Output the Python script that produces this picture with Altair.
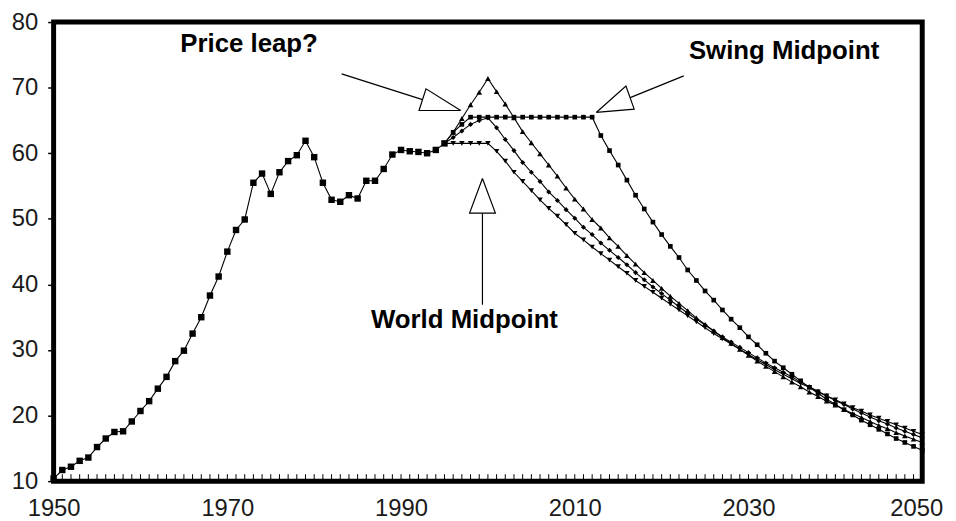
import altair as alt
import pandas as pd

# ---------------- data ----------------
hist_years = list(range(1950, 1996))
hist_vals = [10.4, 11.7, 12.2, 13.1, 13.6, 15.2, 16.5, 17.5, 17.6, 19.1,
             20.7, 22.2, 24.1, 25.9, 28.3, 29.9, 32.5, 35.0, 38.3, 41.2,
             45.0, 48.3, 49.9, 55.5, 56.9, 53.8, 57.1, 58.8, 59.7, 61.9,
             59.4, 55.5, 52.9, 52.6, 53.6, 53.1, 55.8, 55.8, 57.6, 59.8,
             60.5, 60.3, 60.2, 60.0, 60.5, 61.5]

scen_years = list(range(1995, 2051))
world_mid = [61.5, 61.5, 61.5, 61.5, 61.5, 61.5,
             60.3, 58.8, 57.1, 55.7, 54.3, 52.9, 51.6, 50.4, 49.1, 47.8,
             46.8, 45.7, 44.7, 43.7, 42.7, 41.7, 40.6,
             39.7, 38.8, 37.9, 37.0, 36.1, 35.2, 34.3, 33.4, 32.5, 31.7,
             30.9, 30.1, 29.3,
             28.5, 27.8, 27.0, 26.3, 25.6, 24.9, 24.3, 23.6, 23.0, 22.4,
             21.8, 21.2, 20.7, 20.1, 19.6, 19.1, 18.6, 18.1, 17.6, 17.1]
early_peak = [61.5, 62.4, 63.4, 64.4, 65.0, 65.4,
              63.9, 62.1, 60.4, 58.6, 57.1, 55.7, 54.1, 52.8, 51.4, 50.1,
              48.7, 47.6, 46.3, 45.2, 44.1, 43.0, 41.8,
              40.7, 39.6, 38.6, 37.6, 36.6, 35.6, 34.7, 33.8, 32.9, 32.0,
              31.2, 30.4, 29.6,
              28.8, 28.0, 27.3, 26.6, 25.9, 25.1, 24.4, 23.7, 23.0, 22.3,
              21.7, 21.0, 20.4, 19.8, 19.2, 18.7, 18.1, 17.6, 17.1, 16.6]
price_leap = [61.5, 63.2, 65.3, 67.4, 69.3, 71.4,
              69.4, 67.5, 65.4, 63.3, 61.6, 59.9, 58.2, 56.5, 54.7, 53.0,
              51.5, 49.9, 48.6, 47.1, 45.8, 44.4, 43.1,
              41.8, 40.6, 39.4, 38.2, 37.1, 36.0, 34.9, 33.9, 32.9, 31.9,
              31.0, 30.1, 29.2,
              28.3, 27.5, 26.7, 25.9, 25.1, 24.4, 23.6, 22.9, 22.2, 21.6,
              20.9, 20.3, 19.7, 19.1, 18.5, 18.0, 17.4, 16.9, 16.4, 15.9]
swing_mid = [61.5, 63.2, 64.4, 65.5,
             65.5, 65.5, 65.5, 65.5, 65.5, 65.5, 65.5, 65.5, 65.5, 65.5,
             65.5, 65.5, 65.5, 65.5,
             62.7, 60.4, 58.2, 55.9, 53.6, 51.5, 49.5, 47.6, 45.8, 44.1,
             42.2, 40.6, 39.0, 37.6, 36.1, 34.7, 33.4, 32.0, 30.8, 29.5,
             28.3, 27.3, 26.3,
             25.3, 24.3, 23.4, 22.5, 21.7, 20.9, 20.1, 19.3, 18.6, 17.9,
             17.2, 16.5, 15.9, 15.3, 14.7]

x_tick_labels = [1950, 1970, 1990, 2010, 2030, 2050]
y_tick_labels = [10, 20, 30, 40, 50, 60, 70, 80]
minor_tick_years = list(range(1950, 2051))

# annotations (text and arrows, in data units)
note_text = ["Price leap?", "Swing Midpoint", "World Midpoint"]
note_year = [1972.5, 2034.1, 1997.3]
note_value = [76.6, 75.6, 34.6]

arrow_id = ["p_shaft", "p_shaft", "p_head", "p_head", "p_head", "p_head",
            "s_shaft", "s_shaft", "s_head", "s_head", "s_head", "s_head",
            "w_shaft", "w_shaft", "w_head", "w_head", "w_head", "w_head"]
arrow_year = [1983.16, 1992.47, 1996.87, 1992.87, 1992.07, 1996.87,
              2022.55, 2016.38, 2012.47, 2015.89, 2016.84, 2012.47,
              1999.37, 1999.37, 1999.37, 1997.89, 2000.86, 1999.37]
arrow_value = [72.10, 68.18, 66.52, 69.82, 66.52, 66.52,
               71.80, 68.48, 66.22, 70.24, 66.72, 66.22,
               50.87, 36.90, 56.14, 50.87, 50.87, 56.14]

# ---------------- tables ----------------
rows = [{"year": y, "value": v, "series": "History"} for y, v in zip(hist_years, hist_vals)]
for name, vals in [("World", world_mid), ("Early", early_peak),
                   ("Price", price_leap), ("Swing", swing_mid)]:
    rows += [{"year": y, "value": v, "series": name} for y, v in zip(scen_years, vals)]
df = pd.DataFrame(rows)

ticks_df = pd.DataFrame({"year": minor_tick_years})
notes_df = pd.DataFrame({"text": note_text, "year": note_year, "value": note_value})
arrows_df = pd.DataFrame({"id": arrow_id, "year": arrow_year, "value": arrow_value,
                          "order": list(range(len(arrow_id)))})

FONT = "Liberation Sans"
PLOT_H = 463

x_enc = alt.X("year:Q",
              scale=alt.Scale(domain=[1950, 2050], nice=False, zero=False),
              axis=alt.Axis(values=x_tick_labels, format="d", ticks=False, domain=False,
                            grid=False, labelFlush=False, labelFont=FONT, labelFontSize=24,
                            labelColor="#1a1a1a", labelPadding=16,
                            labelOffset={"condition": {"test": "datum.value == 2050", "value": -6},
                                         "value": 0}),
              title=None)
y_enc = alt.Y("value:Q",
              scale=alt.Scale(domain=[10, 80], nice=False, zero=False),
              axis=alt.Axis(values=y_tick_labels, tickSize=6, tickWidth=1.5,
                            tickColor="black", domain=False, grid=False,
                            labelFont=FONT, labelFontSize=24, labelColor="#1a1a1a",
                            labelPadding=10, labelFlush=False),
              title=None)

lines = alt.Chart(df).mark_line(color="black", strokeWidth=1.1).encode(
    x=x_enc, y=y_enc, detail="series:N", order="year:Q")

point_styles = [("History", "square", 42), ("World", "triangle-down", 30),
                ("Early", "diamond", 26), ("Price", "triangle-up", 32),
                ("Swing", "square", 22)]
point_layers = []
for name, shape, size in point_styles:
    point_layers.append(
        alt.Chart(df).transform_filter(alt.datum.series == name)
        .mark_point(shape=shape, size=size, filled=True, color="black", opacity=1)
        .encode(x="year:Q", y="value:Q"))

minor_ticks = alt.Chart(ticks_df).mark_rule(color="black", strokeWidth=1).encode(
    x="year:Q", y=alt.value(PLOT_H - 7), y2=alt.value(PLOT_H))

arrows = alt.Chart(arrows_df).mark_line(color="black", strokeWidth=1.2).encode(
    x="year:Q", y="value:Q", detail="id:N", order="order:Q")

notes = alt.Chart(notes_df).mark_text(
    font=FONT, fontSize=26, fontWeight="bold", color="black",
    align="center", baseline="middle").encode(
    x="year:Q", y="value:Q", text="text:N")

chart = alt.layer(lines, *point_layers, minor_ticks, arrows, notes).properties(
    width=876, height=PLOT_H,
    background="white",
    padding={"left": 46, "top": 12, "right": 26, "bottom": 38},
    autosize=alt.AutoSizeParams(type="none"),
).configure_view(stroke="black", strokeWidth=5)

chart.save("out.html", embed_options={"renderer": "svg", "actions": False})
